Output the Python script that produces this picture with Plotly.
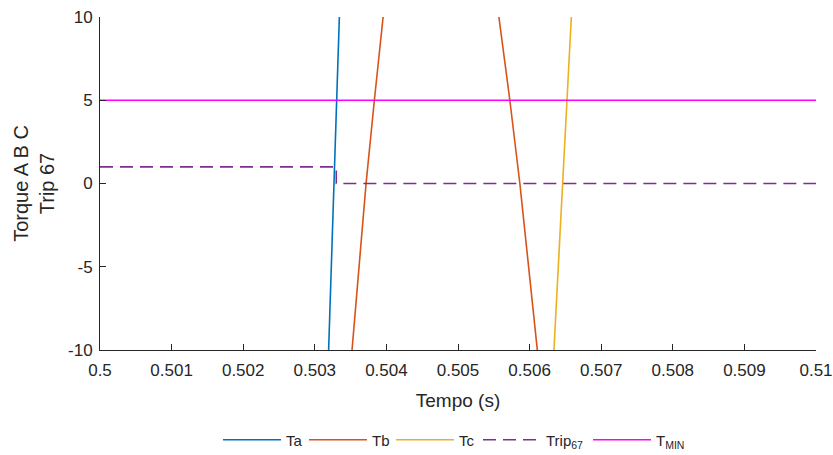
import plotly.graph_objects as go

# Data
ta_t = [0.503193, 0.503263, 0.503301, 0.503343]
ta_v = [-10, 0, 5, 10]

tb_t = [0.503520, 0.503716, 0.503832, 0.503954, None, 0.505571, 0.505724, 0.505864, 0.506108]
tb_v = [-10, 0, 5, 10, None, 10, 5, 0, -10]

tc_t = [0.506340, 0.506457, 0.506517, 0.506583]
tc_v = [-10, 0, 5, 10]

trip_t = [0.5, 0.5033, 0.5033, 0.51]
trip_v = [1, 1, 0, 0]

tmin_t = [0.5, 0.51]
tmin_v = [5, 5]

x_ticks = [0.5, 0.501, 0.502, 0.503, 0.504, 0.505, 0.506, 0.507, 0.508, 0.509, 0.51]
x_labels = ["0.5", "0.501", "0.502", "0.503", "0.504", "0.505", "0.506", "0.507", "0.508", "0.509", "0.51"]
y_ticks = [-10, -5, 0, 5, 10]
y_labels = ["-10", "-5", "0", "5", "10"]

names = ["Ta", "Tb", "Tc", "Trip<sub>67</sub>", "T<sub>MIN</sub>"]
colors = ["#0072BD", "#D95319", "#EDB120", "#7E2F8E", "#FF00FF"]
legend_ids = ["legend", "legend2", "legend3", "legend4", "legend5"]
legend_x_px = [218, 304, 391, 478, 588]

series = [(ta_t, ta_v), (tb_t, tb_v), (tc_t, tc_v), (trip_t, trip_v), (tmin_t, tmin_v)]

fig = go.Figure()
for i, (xs, ys) in enumerate(series):
    line = dict(color=colors[i], width=1.6)
    if i == 3:
        line["dash"] = "13px,7px"
    fig.add_trace(go.Scatter(x=xs, y=ys, mode="lines", name=names[i],
                             line=line, legend=legend_ids[i]))

axis_color = "#262626"
W, H = 833, 455
layout_legends = {}
for i, lid in enumerate(legend_ids):
    layout_legends[lid] = dict(
        orientation="h", x=legend_x_px[i] / W, xanchor="left", xref="container",
        y=1 - 440 / H, yanchor="middle", yref="container",
        font=dict(size=15), itemwidth=58, bgcolor="rgba(0,0,0,0)",
        borderwidth=0)

fig.update_layout(
    width=W, height=H,
    margin=dict(l=100, r=17, t=17, b=105),
    paper_bgcolor="white", plot_bgcolor="white",
    font=dict(family="Liberation Sans, Arial, sans-serif", size=17, color=axis_color),
    showlegend=True,
    xaxis=dict(range=[0.5, 0.51], tickvals=x_ticks, ticktext=x_labels, automargin=False,
               showgrid=False, zeroline=False, showline=True, linecolor=axis_color,
               linewidth=1, ticks="inside", ticklen=6, tickcolor=axis_color,
               tickfont=dict(size=17), ticklabelstandoff=5,
               title=dict(text="Tempo (s)", font=dict(size=19), standoff=14)),
    yaxis=dict(range=[-10, 10], tickvals=y_ticks, ticktext=y_labels, automargin=False,
               showgrid=False, zeroline=False, showline=True, linecolor=axis_color,
               linewidth=1, ticks="inside", ticklen=6, tickcolor=axis_color,
               tickfont=dict(size=17), ticklabelstandoff=3,
               title=dict(text="Torque A B C<br>Trip 67", font=dict(size=20), standoff=8)),
    **layout_legends,
)

fig.write_html("out.html")
